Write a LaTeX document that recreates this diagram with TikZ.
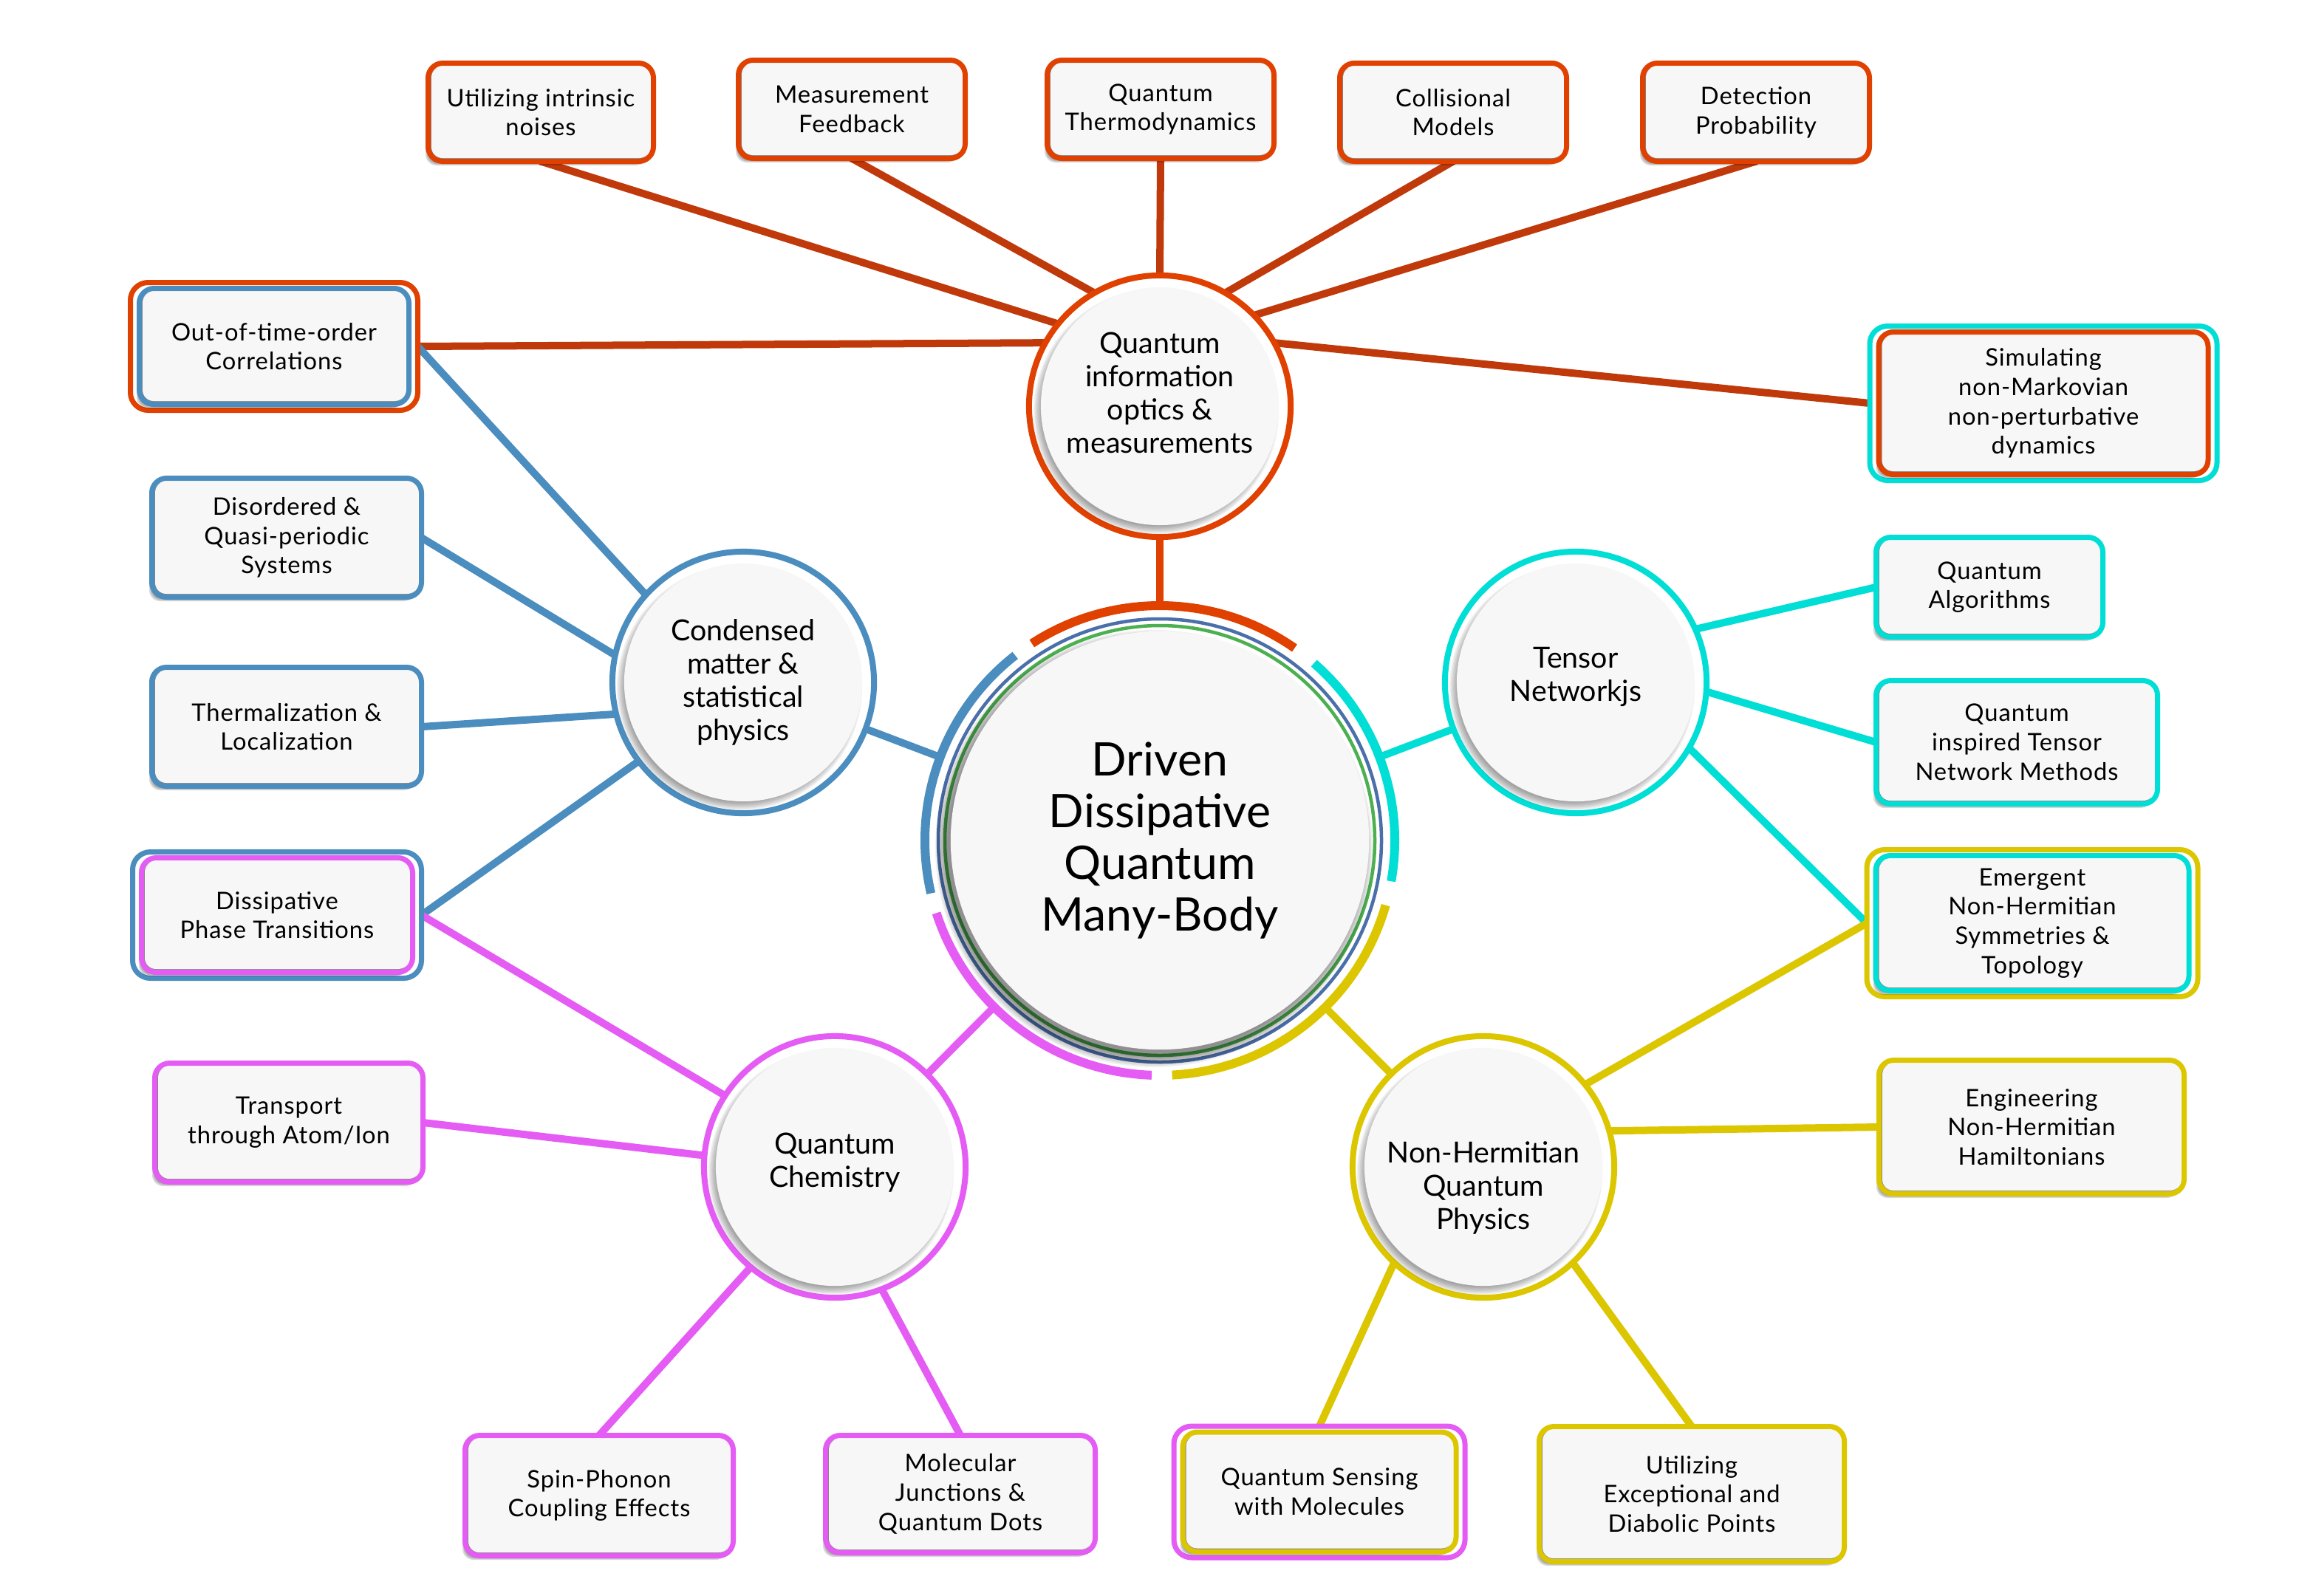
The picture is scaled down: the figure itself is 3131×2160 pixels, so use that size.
\documentclass[tikz,border=0pt]{standalone}
\usepackage{fontspec}
\setmainfont{Lato}
\newfontfamily\leaffam[LetterSpace=3]{Lato}
\pgfdeclarelayer{bg}
\pgfsetlayers{bg,main}

\definecolor{cOr}{RGB}{224,64,0}
\definecolor{cOrL}{RGB}{192,57,11}
\definecolor{cBl}{RGB}{74,141,190}
\definecolor{cTe}{RGB}{0,222,214}
\definecolor{cMa}{RGB}{229,92,245}
\definecolor{cYe}{RGB}{220,198,0}
\definecolor{bfill}{RGB}{247,247,247}
\definecolor{cGr}{RGB}{76,175,80}
\definecolor{cRing}{RGB}{74,111,170}

\newcommand\leaffont{\leaffam\fontsize{9.3}{11.3}\selectfont}
\newcommand\topicfont{\fontsize{11.2}{12.8}\selectfont}
\newcommand\hubfont{\fontsize{17.8}{19.9}\selectfont}

\tikzset{
  lback/.style={rectangle, rounded corners=0.2cm, fill=white, inner sep=0pt, outer sep=0pt},
  linner/.style={rectangle, rounded corners=0.15cm, fill=bfill, inner sep=0pt, outer sep=0pt},
  lshade/.style={fill=black, opacity=0.15, rounded corners=0.15cm},
  lframe/.style={rectangle, rounded corners=0.2cm, line width=0.07cm, inner sep=0pt, outer sep=0pt,
    align=center, font=\leaffont, text=black},
  oframe/.style={rectangle, rounded corners=0.24cm, line width=0.07cm, fill=white, inner sep=0pt, outer sep=0pt},
  tring/.style={circle, minimum size=3.54cm, line width=0.08cm, fill=white, inner sep=0pt, outer sep=0pt},
  tdisk/.style={circle, minimum size=3.22cm, fill=bfill, inner sep=0pt},
  ttext/.style={align=center, font=\topicfont, inner sep=0pt},
  cshade/.style={fill=black, opacity=0.06},
  hubdisk/.style={circle, minimum size=5.66cm, fill=bfill, inner sep=0pt, align=center, font=\hubfont},
  link/.style={line width=0.1cm, line cap=round},
}

% name, x, y, W, H, color, text
\newcommand\leafbox[7]{%
  \node[lback, minimum width=(#4-7)*0.01cm, minimum height=(#5-7)*0.01cm] (#1-b) at (#2,#3) {};
  \foreach \k in {0,1,2,3}
    \fill[lshade] ({#2-(#4-16)/2-8+1.5*\k},{#3-(#5-16)/2+2+\k}) rectangle ({#2+(#4-16)/2-4-\k},{#3+(#5-16)/2+10-1.5*\k});
  \node[linner, minimum width=(#4-16)*0.01cm, minimum height=(#5-16)*0.01cm] (#1-i) at (#2,#3) {};
  \node[lframe, draw=#6, minimum width=(#4-7)*0.01cm, minimum height=(#5-7)*0.01cm] (#1) at (#2,#3) {#7};
}
% name, x, y, W, H, outer color, inner color, text
\newcommand\dleafbox[8]{%
  \node[oframe, draw=#6, minimum width=(#4-7)*0.01cm, minimum height=(#5-7)*0.01cm] (#1) at (#2,#3) {};
  \leafbox{#1-t}{#2}{#3}{#4-24}{#5-16}{#7}{#8}
}
% name, x, y, color, text offset, text
\newcommand\topic[6]{%
  \node[tring, draw=#4] (#1) at (#2,#3) {};
  \foreach \k in {0,...,6}
    \fill[cshade] (#2-5,#3+7) circle[radius=166-1.8*\k];
  \node[tdisk] (#1-d) at (#2,#3) {};
  \node[ttext] (#1-t) at (#2,#3+#5) {#6};
}

\begin{document}
\begin{tikzpicture}[x=0.01cm, y=-0.01cm]
\useasboundingbox (0,0) rectangle (3131,2160);
\begin{pgfonlayer}{bg}
  \fill[white] (0,0) rectangle (3131,2160);
\end{pgfonlayer}

% hub
\node[circle, minimum size=6.48cm, inner sep=0pt, outer sep=0pt] (C) at (1570,1138) {};
\begin{scope}[shift={(1570,1138)}, y=0.01cm]
  \draw[cRing, line width=0.045cm] (0,0) circle[radius=300];
  \draw[cGr, line width=0.045cm] (0,0) circle[radius=291];
  \draw[cOr, line width=0.12cm] (55:318) arc[start angle=55, end angle=123, radius=318];
  \draw[cTe, line width=0.12cm] (-10:318) arc[start angle=-10, end angle=49, radius=318];
  \draw[cYe, line width=0.12cm] (-87:318) arc[start angle=-87, end angle=-16, radius=318];
  \draw[cMa, line width=0.12cm] (-162:318) arc[start angle=-162, end angle=-92, radius=318];
  \draw[cBl, line width=0.12cm] (128:318) arc[start angle=128, end angle=193, radius=318];
  \foreach \k in {0,...,8}
    \fill[cshade] (-8,-11) circle[radius=296-2*\k];
\end{scope}
\node[hubdisk] (C-d) at (1570,1138) {Driven\\Dissipative\\Quantum\\Many-Body};

% topics
\topic{QI}{1570}{550}{cOr}{-18}{Quantum\\information\\optics \&\\measurements}
\topic{CM}{1006}{924}{cBl}{0}{Condensed\\matter \&\\statistical\\physics}
\topic{TN}{2133}{924}{cTe}{-8}{Tensor\\Networkjs}
\topic{QC}{1130}{1580}{cMa}{-6}{Quantum\\Chemistry}
\topic{NH}{2008}{1580}{cYe}{28}{Non-Hermitian\\Quantum\\Physics}

% leaves
\leafbox{b1}{732}{152}{312}{140}{cOr}{Utilizing intrinsic\\noises}
\leafbox{b2}{1153}{148}{314}{140}{cOr}{Measurement\\Feedback}
\leafbox{b3}{1571}{148}{314}{140}{cOr}{Quantum\\Thermodynamics}
\leafbox{b4}{1967}{152}{314}{140}{cOr}{Collisional\\Models}
\leafbox{b5}{2377}{152}{314}{140}{cOr}{Detection\\Probability}
\dleafbox{OTOC}{371}{469}{396}{180}{cOr}{cBl}{Out-of-time-order\\Correlations}
\leafbox{DQ}{388}{728}{372}{168}{cBl}{Disordered \&\\Quasi-periodic\\Systems}
\leafbox{TL}{388}{984}{372}{168}{cBl}{Thermalization \&\\Localization}
\dleafbox{DPT}{375}{1239}{398}{178}{cBl}{cMa}{Dissipative\\Phase Transitions}
\leafbox{TR}{391}{1520}{370}{168}{cMa}{Transport\\through Atom/Ion}
\leafbox{SP}{811}{2025}{370}{170}{cMa}{Spin-Phonon\\Coupling Effects}
\leafbox{MJ}{1300}{2023}{372}{166}{cMa}{Molecular\\Junctions \&\\Quantum Dots}
\dleafbox{QS}{1786}{2020}{401}{185}{cMa}{cYe}{Quantum Sensing\\with Molecules}
\leafbox{UE}{2290}{2023}{420}{190}{cYe}{Utilizing\\Exceptional and\\Diabolic Points}
\leafbox{EN}{2750}{1526}{420}{188}{cYe}{Engineering\\Non-Hermitian\\Hamiltonians}
\dleafbox{EM}{2751}{1250}{455}{206}{cYe}{cTe}{Emergent\\Non-Hermitian\\Symmetries \&\\Topology}
\leafbox{QIT}{2730}{1005}{388}{174}{cTe}{Quantum\\inspired Tensor\\Network Methods}
\leafbox{QA}{2693}{795}{314}{142}{cTe}{Quantum\\Algorithms}
\dleafbox{SIM}{2766}{546}{477}{216}{cTe}{cOr}{Simulating\\non-Markovian\\non-perturbative\\dynamics}

% connectors
\begin{pgfonlayer}{bg}
  \draw[link, cOr] (QI) -- (C);
  \draw[link, cOrL] (b1.south) -- (QI.141);
  \draw[link, cOrL] (b2.south) -- (QI.120);
  \draw[link, cOrL] (b3.south) -- (QI.90);
  \draw[link, cOrL] (b4.south) -- (QI.60);
  \draw[link, cOrL] (b5.south) -- (QI.44);
  \draw[link, cOrL] (OTOC.east) -- (QI.151);
  \draw[link, cOrL] (SIM.west) -- (QI.29);

  \draw[link, cBl] (CM) -- (C);
  \draw[link, cBl] (OTOC.east) -- (CM.138);
  \draw[link, cBl] (DQ.east) -- (CM.168);
  \draw[link, cBl] (TL.east) -- (CM.194);
  \draw[link, cBl] (DPT.east) -- (CM.217);

  \draw[link, cMa] (QC) -- (C);
  \draw[link, cMa] (DPT.east) -- (QC.147);
  \draw[link, cMa] (TR.east) -- (QC.175);
  \draw[link, cMa] (SP.north) -- (QC.230);
  \draw[link, cMa] (MJ.north) -- (QC.291);

  \draw[link, cTe] (TN) -- (C);
  \draw[link, cTe] (QA.west) -- (TN.24);
  \draw[link, cTe] (QIT.west) -- (TN.-4);
  \draw[link, cTe] (EM.west) -- (TN.-30);

  \draw[link, cYe] (NH) -- (C);
  \draw[link, cYe] (EM.west) -- (NH.39);
  \draw[link, cYe] (EN.west) -- (NH.16);
  \draw[link, cYe] (QS.north) -- (NH.227);
  \draw[link, cYe] (UE.north) -- (NH.313);
\end{pgfonlayer}
\end{tikzpicture}
\end{document}
